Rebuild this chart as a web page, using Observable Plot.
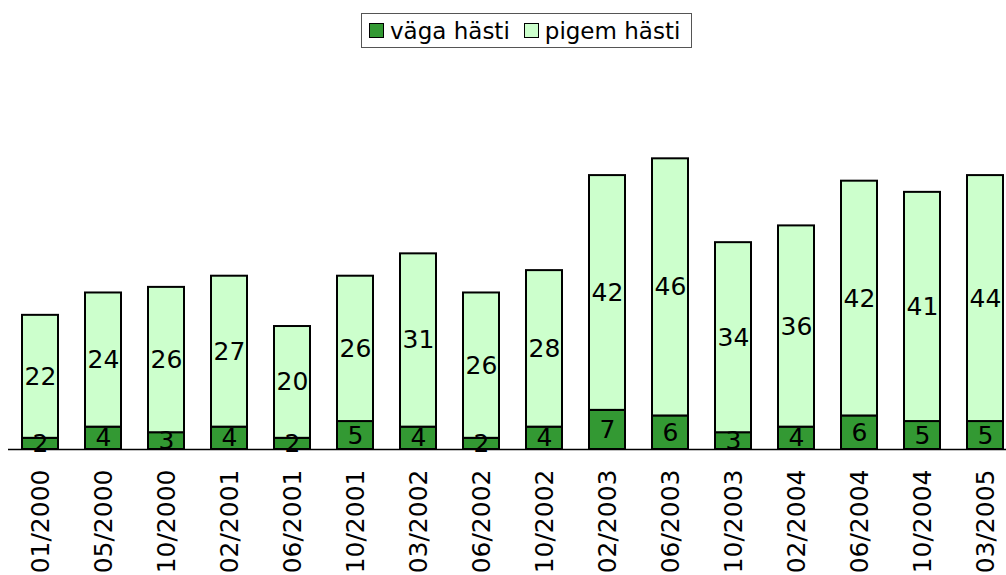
<!DOCTYPE html>
<html>
<head>
<meta charset="utf-8">
<script src="https://cdn.jsdelivr.net/npm/d3@7"></script>
<script src="https://cdn.jsdelivr.net/npm/@observablehq/plot@0.6"></script>
<style>
  html, body { margin: 0; padding: 0; background: #fff; }
  #wrap { position: relative; width: 1006px; height: 575px; overflow: hidden; }
  #legend {
    position: absolute; left: 361px; top: 13px; width: 329px; height: 33px;
    border: 1px solid #555; background: #fff; box-sizing: content-box;
    font-family: "DejaVu Sans", Verdana, sans-serif; font-size: 23px; color: #000;
    display: flex; align-items: center; white-space: nowrap;
  }
  .sw { display: inline-block; width: 13px; height: 13px; border: 1px solid #000; margin: 0 6px 0 7px; flex: none; }
  .sw.second { margin-left: 14px; }
</style>
</head>
<body>
<div id="wrap">
  <div id="legend"></div>
</div>
<script>
const categories = ["01/2000","05/2000","10/2000","02/2001","06/2001","10/2001","03/2002","06/2002","10/2002","02/2003","06/2003","10/2003","02/2004","06/2004","10/2004","03/2005"];
const seriesNames = ["väga hästi", "pigem hästi"];
const seriesColors = ["#339933", "#ccffcc"];
const vagaHasti = [2,4,3,4,2,5,4,2,4,7,6,3,4,6,5,5];
const pigemHasti = [22,24,26,27,20,26,31,26,28,42,46,34,36,42,41,44];

const rows = [];
categories.forEach((c, i) => {
  rows.push({cat: c, series: seriesNames[0], value: vagaHasti[i], y1: 0, y2: vagaHasti[i]});
  rows.push({cat: c, series: seriesNames[1], value: pigemHasti[i], y1: vagaHasti[i], y2: vagaHasti[i] + pigemHasti[i]});
});
rows.forEach(r => r.mid = (r.y1 + r.y2) / 2);

const step = 63.07;
const base = 449;
const pxPerUnit = 5.59;

const chart = Plot.plot({
  width: 1006,
  height: 575,
  marginLeft: 8,
  marginRight: 0,
  marginTop: 0,
  marginBottom: 126,
  style: {fontFamily: "DejaVu Sans, Verdana, sans-serif", fontSize: "25px", color: "#000", background: "transparent"},
  x: {domain: categories, range: [8, 8 + categories.length * step], paddingInner: 0.43, paddingOuter: 0.215,
      label: null, tickRotate: -90, tickSize: 0, tickPadding: 20},
  y: {domain: [0, 80], range: [base, base - 80 * pxPerUnit], axis: null},
  color: {domain: seriesNames, range: seriesColors},
  marks: [
    Plot.barY(rows, {x: "cat", y1: "y1", y2: "y2", fill: "series", stroke: "#000", strokeWidth: 2}),
    Plot.ruleY([0], {stroke: "#000", strokeWidth: 1.5}),
    Plot.text(rows, {x: "cat", y: "mid", text: d => String(d.value), fill: "#000", fontSize: 25})
  ]
});
document.getElementById("wrap").appendChild(chart);

const legend = document.getElementById("legend");
seriesNames.forEach((s, i) => {
  const sw = document.createElement("span");
  sw.className = "sw" + (i > 0 ? " second" : "");
  sw.style.background = seriesColors[i];
  legend.appendChild(sw);
  const t = document.createElement("span");
  t.textContent = s;
  legend.appendChild(t);
});
</script>
</body>
</html>
